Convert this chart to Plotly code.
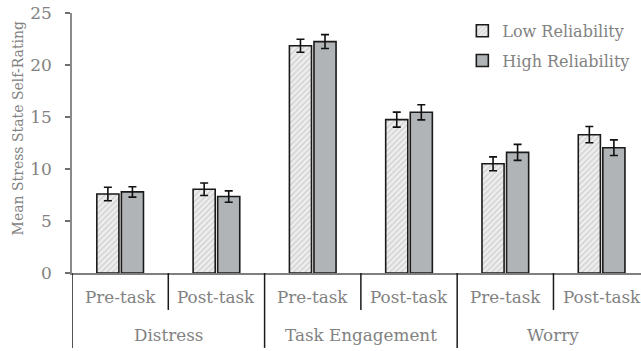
import plotly.graph_objects as go

# Stress-state self-ratings by reliability condition
groups = ["Distress", "Task Engagement", "Worry"]
phases = ["Pre-task", "Post-task"]

low_means = [7.6, 8.05, 21.85, 14.75, 10.5, 13.3]
low_err = [0.65, 0.6, 0.62, 0.72, 0.67, 0.78]
high_means = [7.8, 7.35, 22.25, 15.45, 11.6, 12.05]
high_err = [0.5, 0.55, 0.67, 0.73, 0.77, 0.75]

series_names = ["Low Reliability", "High Reliability"]
y_ticks = [0, 5, 10, 15, 20, 25]
y_title = "Mean Stress State Self-Rating"

FONT = "DejaVu Serif"
TEXT = "#828282"

x_idx = list(range(len(low_means)))

fig = go.Figure()
fig.add_trace(go.Bar(
    x=x_idx, y=low_means, name=series_names[0], legendgroup="a",
    marker=dict(color="#e6e6e6",
                line=dict(color="#1a1a1a", width=1.6),
                pattern=dict(shape="/", fgcolor="#ababab", bgcolor="#eeeeee",
                             size=4, solidity=0.3)),
    error_y=dict(type="data", array=low_err, color="#111111",
                 thickness=1.6, width=4),
))
fig.add_trace(go.Bar(
    x=x_idx, y=high_means, name=series_names[1], legendgroup="b",
    marker=dict(color="#b1b4b6", line=dict(color="#1a1a1a", width=1.6)),
    error_y=dict(type="data", array=high_err, color="#111111",
                 thickness=1.6, width=4),
))

# Two-level category labels under the axis
for i in x_idx:
    fig.add_annotation(x=i, y=-0.092, xref="x", yref="paper",
                       text=phases[i % 2], showarrow=False,
                       font=dict(family=FONT, size=16.8, color=TEXT),
                       xanchor="center", yanchor="middle")
for g, name in enumerate(groups):
    fig.add_annotation(x=2 * g + 0.5, y=-0.238, xref="x", yref="paper",
                       text=name, showarrow=False,
                       font=dict(family=FONT, size=16.8, color=TEXT),
                       xanchor="center", yanchor="middle")

# Divider lines between phases (short) and between groups (long)
for i in x_idx:
    long_div = (i % 2 == 0)
    fig.add_shape(type="line", xref="x", yref="paper",
                  x0=i - 0.5, x1=i - 0.5, y0=0,
                  y1=-0.288 if long_div else -0.142,
                  line=dict(color="#1a1a1a", width=1.5))

# Vertical axis title
fig.add_annotation(text=y_title, textangle=-90, showarrow=False,
                   xref="paper", yref="paper", x=0, y=0.556,
                   xanchor="center", yanchor="middle", xshift=-54,
                   font=dict(family=FONT, size=14, color=TEXT))

fig.update_layout(
    width=641, height=351,
    margin=dict(l=72, r=0, t=13, b=78),
    paper_bgcolor="white", plot_bgcolor="white",
    barmode="group", bargap=0.49, bargroupgap=0.1,
    font=dict(family=FONT, color=TEXT),
    showlegend=True,
    legend=dict(x=0.686, y=0.997, xanchor="left", yanchor="top",
                font=dict(family=FONT, size=16, color=TEXT),
                tracegroupgap=6, bgcolor="rgba(0,0,0,0)"),
    xaxis=dict(range=[-0.5, 5.409], showticklabels=False, ticks="",
               showgrid=False, zeroline=False,
               showline=True, linecolor="#7f7f7f", linewidth=1.6),
    yaxis=dict(range=[0, 25], tickvals=y_ticks, ticks="outside",
               ticklen=5, tickcolor="#6f6f6f", tickwidth=1.5,
               showgrid=False, zeroline=False,
               showline=True, linecolor="#8a8a8a", linewidth=1.6,
               ticklabelstandoff=10,
               tickfont=dict(family=FONT, size=17, color=TEXT)),
)

fig.write_html("out.html")
